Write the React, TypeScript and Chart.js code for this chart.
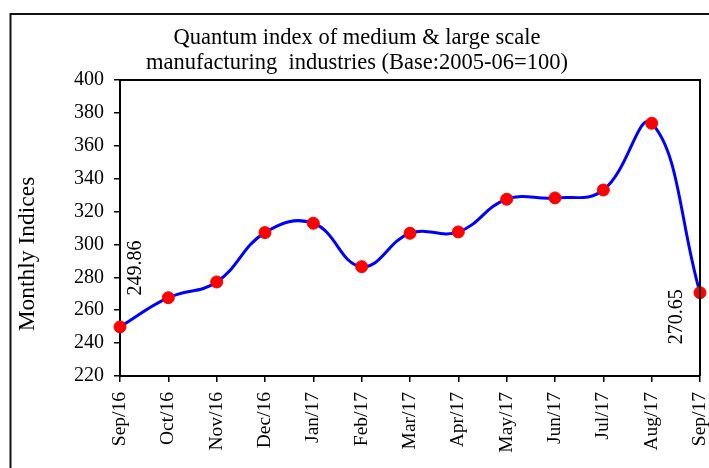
import React, { useEffect, useRef } from "react";
import { Chart, registerables } from "chart.js";

Chart.register(...registerables);

const categories = [
  "Sep/16", "Oct/16", "Nov/16", "Dec/16", "Jan/17", "Feb/17", "Mar/17",
  "Apr/17", "May/17", "Jun/17", "Jul/17", "Aug/17", "Sep/17",
];
const indexValues = [
  249.86, 267.6, 277.2, 307.2, 312.9, 286.5, 306.8, 307.6, 327.5, 328.3, 333.1, 373.7, 270.65,
];
const titleLines = [
  "Quantum index of medium & large scale",
  "manufacturing  industries (Base:2005-06=100)",
];
const yAxisTitle = "Monthly Indices";
const yMin = 220;
const yMax = 400;
const yStep = 20;

const FONT = "'Liberation Serif', 'Times New Roman', serif";

const framePlugin = {
  id: "framePlugin",
  beforeDraw(chart: any) {
    const ctx = chart.ctx;
    ctx.save();
    ctx.fillStyle = "#ffffff";
    ctx.fillRect(0, 0, chart.width, chart.height);
    ctx.strokeStyle = "#111";
    ctx.lineWidth = 2;
    ctx.strokeRect(10.5, 14, chart.width + 50, chart.height + 50);
    // title
    ctx.fillStyle = "#000";
    ctx.font = `22.5px ${FONT}`;
    ctx.textAlign = "center";
    ctx.textBaseline = "middle";
    ctx.fillText(titleLines[0], 357, 38);
    ctx.fillText(titleLines[1], 357, 63);
    // y title
    ctx.save();
    ctx.translate(28, 254);
    ctx.rotate(-Math.PI / 2);
    ctx.font = `23.5px ${FONT}`;
    ctx.fillText(yAxisTitle, 0, 0);
    ctx.restore();
    ctx.restore();
  },
  afterDraw(chart: any) {
    const { ctx, chartArea } = chart;
    ctx.save();
    ctx.strokeStyle = "#000";
    ctx.lineWidth = 2;
    ctx.beginPath();
    ctx.moveTo(chartArea.left, chartArea.top);
    ctx.lineTo(chartArea.right, chartArea.top);
    ctx.lineTo(chartArea.right, chartArea.bottom);
    ctx.stroke();
    ctx.restore();
  },
};

const endLabelPlugin = {
  id: "endLabelPlugin",
  afterDatasetsDraw(chart: any) {
    const ctx = chart.ctx;
    const meta = chart.getDatasetMeta(0);
    const data = chart.data.datasets[0].data as number[];
    const items = [
      { i: 0, dx: 16, dy: -59 },
      { i: data.length - 1, dx: -23, dy: 24 },
    ];
    ctx.save();
    ctx.fillStyle = "#000";
    ctx.font = `20px ${FONT}`;
    ctx.textAlign = "center";
    ctx.textBaseline = "middle";
    for (const it of items) {
      const pt = meta.data[it.i];
      ctx.save();
      ctx.translate(pt.x + it.dx, pt.y + it.dy);
      ctx.rotate(-Math.PI / 2);
      ctx.fillText(data[it.i].toFixed(2), 0, 0);
      ctx.restore();
    }
    ctx.restore();
  },
};

export default function App() {
  const canvasRef = useRef<HTMLCanvasElement | null>(null);

  useEffect(() => {
    if (!canvasRef.current) return;
    const chart = new Chart(canvasRef.current, {
      type: "line",
      data: {
        labels: categories,
        datasets: [
          {
            data: indexValues,
            borderColor: "#0000ff",
            borderWidth: 3,
            backgroundColor: "#ff0000",
            pointBackgroundColor: "#ff0000",
            pointBorderColor: "#ff0000",
            pointRadius: 6,
            pointBorderWidth: 1,
            tension: 0.42,
            fill: false,
            clip: false as any,
          },
        ],
      },
      options: {
        responsive: false,
        animation: false,
        layout: { padding: { top: 80, right: 9, left: 0, bottom: 0 } },
        plugins: {
          legend: { display: false },
          title: { display: false },
          tooltip: { enabled: false },
        },
        scales: {
          x: {
            type: "category",
            offset: false,
            grid: {
              display: true,
              drawOnChartArea: false,
              drawTicks: true,
              tickLength: 6,
              color: "#000",
              lineWidth: 1.5,
            },
            border: { display: true, color: "#000", width: 2 },
            ticks: {
              minRotation: 90,
              maxRotation: 90,
              autoSkip: false,
              padding: 10,
              color: "#000",
              font: { family: FONT, size: 19.5 },
            },
            afterFit(scale: any) {
              scale.height = 92;
              scale.paddingLeft = 0;
              scale.paddingRight = 0;
            },
          },
          y: {
            min: yMin,
            max: yMax,
            grid: {
              display: true,
              drawOnChartArea: false,
              drawTicks: true,
              tickLength: 6,
              color: "#000",
              lineWidth: 1.5,
            },
            border: { display: true, color: "#000", width: 2 },
            ticks: {
              stepSize: yStep,
              padding: 10,
              color: "#000",
              font: { family: FONT, size: 20 },
            },
            afterFit(scale: any) {
              scale.width = 120;
              scale.paddingTop = 0;
              scale.paddingBottom = 0;
            },
          },
        },
      },
      plugins: [framePlugin, endLabelPlugin],
    });
    return () => chart.destroy();
  }, []);

  return (
    <div
      style={{
        position: "fixed",
        left: 0,
        top: 0,
        width: 709,
        height: 468,
        background: "#fff",
      }}
    >
      <canvas ref={canvasRef} width={709} height={468} />
    </div>
  );
}
